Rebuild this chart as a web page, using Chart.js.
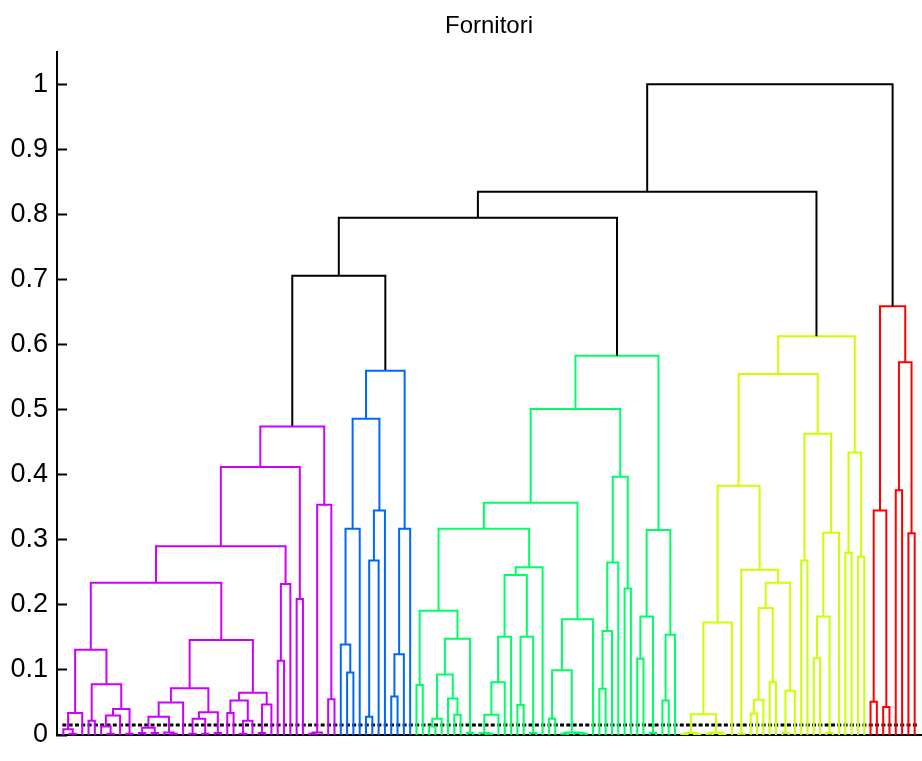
<!DOCTYPE html>
<html>
<head>
<meta charset="utf-8">
<script src="https://cdn.jsdelivr.net/npm/chart.js@4.4.0/dist/chart.umd.min.js"></script>
<style>
  html, body { margin: 0; padding: 0; background: #fff; }
  #wrap { width: 922px; height: 761px; }
</style>
</head>
<body>
<div id="wrap"><canvas id="c"></canvas></div>
<script>
// ── Dendrogram data: node = [height, left, right], 0 = leaf ──
const magP = [0.034, [0.009, 0, [0.002, 0, 0]], 0];
const magQ = [0.078, [0.022, 0, 0], [0.040, [0.030, [0.013, 0, [0.002, 0, 0]], 0], [0.002, 0, 0]]];
const magR1a = [0.050, [0.028, [0.011, [0.003, 0, 0], [0.003, 0, 0]], [0.004, 0, [0.002, 0, 0]]], 0];
const magR1b = [0.035, [0.025, [0.002, 0, 0], [0.002, 0, 0]], [0.003, 0, 0]];
const magR2 = [0.065, [0.053, [0.034, 0, 0], [0.022, [0.002, 0, 0], 0]], [0.047, [0.003, 0, 0], 0]];
const magenta = [0.474,
  [0.412, [0.290, [0.234, [0.131, magP, magQ], [0.146, [0.072, magR1a, magR1b], magR2]], [0.232, [0.114, 0, 0], 0]], [0.209, 0, 0]],
  [0.354, [0.004, [0.002, 0, 0], 0], [0.055, 0, 0]]];

const blue = [0.560,
  [0.486, [0.317, [0.139, 0, [0.096, 0, 0]], 0], [0.345, [0.268, [0.028, 0, 0], 0], 0]],
  [0.317, [0.124, [0.059, 0, 0], 0], 0]];

const grnA = [0.191, [0.077, 0, 0], [0.148, [0.093, [0.025, [0.013, 0, 0], 0], [0.056, 0, [0.031, 0, 0]]], [0.003, 0, 0]]];
const grnB = [0.258, [0.246, [0.151, [0.081, [0.031, [0.003, 0, [0.002, 0, 0]], 0], 0], 0], [0.151, [0.046, 0, 0], [0.003, 0, 0]]], 0];
const grnC = [0.178, [0.0995, [0.025, 0, 0], [0.004, [0.002, 0, 0], [0.003, 0, [0.002, 0, 0]]]], 0];
const grnD = [0.397, [0.265, [0.160, [0.071, 0, 0], 0], 0], [0.225, 0, 0]];
const grnE = [0.315, [0.182, [0.117, 0, 0], [0.003, 0, 0]], [0.154, [0.053, 0, 0], 0]];
const green = [0.583, [0.501, [0.357, [0.317, grnA, grnB], grnC], grnD], grnE];

const yelA = [0.173, [0.032, [0.003, [0.001, 0, 0], [0.001, 0, 0]], [0.004, [0.002, 0, 0], [0.001, 0, 0]]], 0];
const yelB = [0.254, [0.002, 0, 0], [0.234, [0.195, [0.054, [0.033, 0, 0], 0], [0.081, 0, 0]], [0.068, [0.003, 0, 0], 0]]];
const yelC = [0.463, [0.268, 0, 0], [0.311, [0.182, [0.118, 0, 0], [0.003, 0, 0]], 0]];
const yelD = [0.434, [0.280, 0, 0], [0.274, 0, 0]];
const yellow = [0.613, [0.555, [0.383, yelA, yelB], yelC], yelD];

const red = [0.659, [0.345, [0.051, 0, 0], [0.043, 0, 0]], [0.573, [0.376, 0, 0], [0.310, 0, 0]]];

const root = [1.0, [0.835, [0.795, [0.706, magenta, blue], green], yellow], red];

const clusters = [magenta, blue, green, yellow, red];
const clusterColors = ['#cc00ff', '#0066ff', '#00ff66', '#ccff00', '#ff0000'];
const cutoff = 0.7;

const yTicks = [0, 0.1, 0.2, 0.3, 0.4, 0.5, 0.6, 0.7, 0.8, 0.9, 1];
const yTickLabels = ['0', '0.1', '0.2', '0.3', '0.4', '0.5', '0.6', '0.7', '0.8', '0.9', '1'];
const leafMarkY = 0.0154;

// ── Build link polylines ──
const colorOf = new Map(clusters.map((c, i) => [c, clusterColors[i]]));
const links = {};
let leafN = 0;

function walk(node, color) {
  if (node === 0) return { x: leafN++, y: 0 };
  if (colorOf.has(node)) color = colorOf.get(node);
  const [h, a, b] = node;
  const A = walk(a, color), B = walk(b, color);
  const c = h < cutoff ? color : '#000000';
  (links[c] = links[c] || []).push(
    { x: A.x, y: A.y }, { x: A.x, y: h }, { x: B.x, y: h }, { x: B.x, y: B.y }, { x: B.x, y: null }
  );
  return { x: (A.x + B.x) / 2, y: h };
}
walk(root, '#000000');

const datasets = Object.keys(links).map(c => ({
  data: links[c], borderColor: c, borderWidth: 2, pointRadius: 0, tension: 0,
  spanGaps: false, borderJoinStyle: 'miter', borderCapStyle: 'butt', order: 0
}));
// dotted leaf band near the baseline
datasets.push({
  data: [{ x: -0.15, y: leafMarkY }, { x: leafN - 0.6, y: leafMarkY }],
  borderColor: '#000', borderWidth: 3, borderDash: [4, 2.3], pointRadius: 0, order: 1
});

const fam = '"Liberation Sans", Arial, sans-serif';

new Chart(document.getElementById('c').getContext('2d'), {
  type: 'line',
  data: { datasets },
  options: {
    responsive: true, maintainAspectRatio: false, animation: false,
    layout: { padding: { right: 1, left: 0, top: 0, bottom: 0 } },
    plugins: {
      legend: { display: false }, tooltip: { enabled: false },
      title: { display: true, text: 'Fornitori', fullSize: false, color: '#000',
        font: { family: fam, size: 24, weight: 'normal' }, padding: { top: 12, bottom: 11 } }
    },
    scales: {
      x: {
        type: 'linear', min: -1, max: leafN,
        ticks: { display: false },
        grid: { display: true, drawOnChartArea: false, drawTicks: false },
        border: { display: true, color: '#000', width: 2 },
        afterFit: s => { s.height = 26; s.paddingLeft = s.paddingRight = 0; }
      },
      y: {
        type: 'linear', min: 0, max: 1.05,
        afterBuildTicks: s => { s.ticks = yTicks.map(v => ({ value: v })); },
        ticks: { color: '#000', font: { family: fam, size: 27, weight: 'normal' }, padding: 19,
          callback: (v, i) => yTickLabels[i] },
        grid: { drawOnChartArea: false, drawTicks: true, tickLength: -10, tickWidth: 2, tickColor: '#000' },
        border: { display: true, color: '#000', width: 2 },
        afterFit: s => { s.width = 57; s.paddingTop = s.paddingBottom = 0; }
      }
    }
  }
});
</script>
</body>
</html>
